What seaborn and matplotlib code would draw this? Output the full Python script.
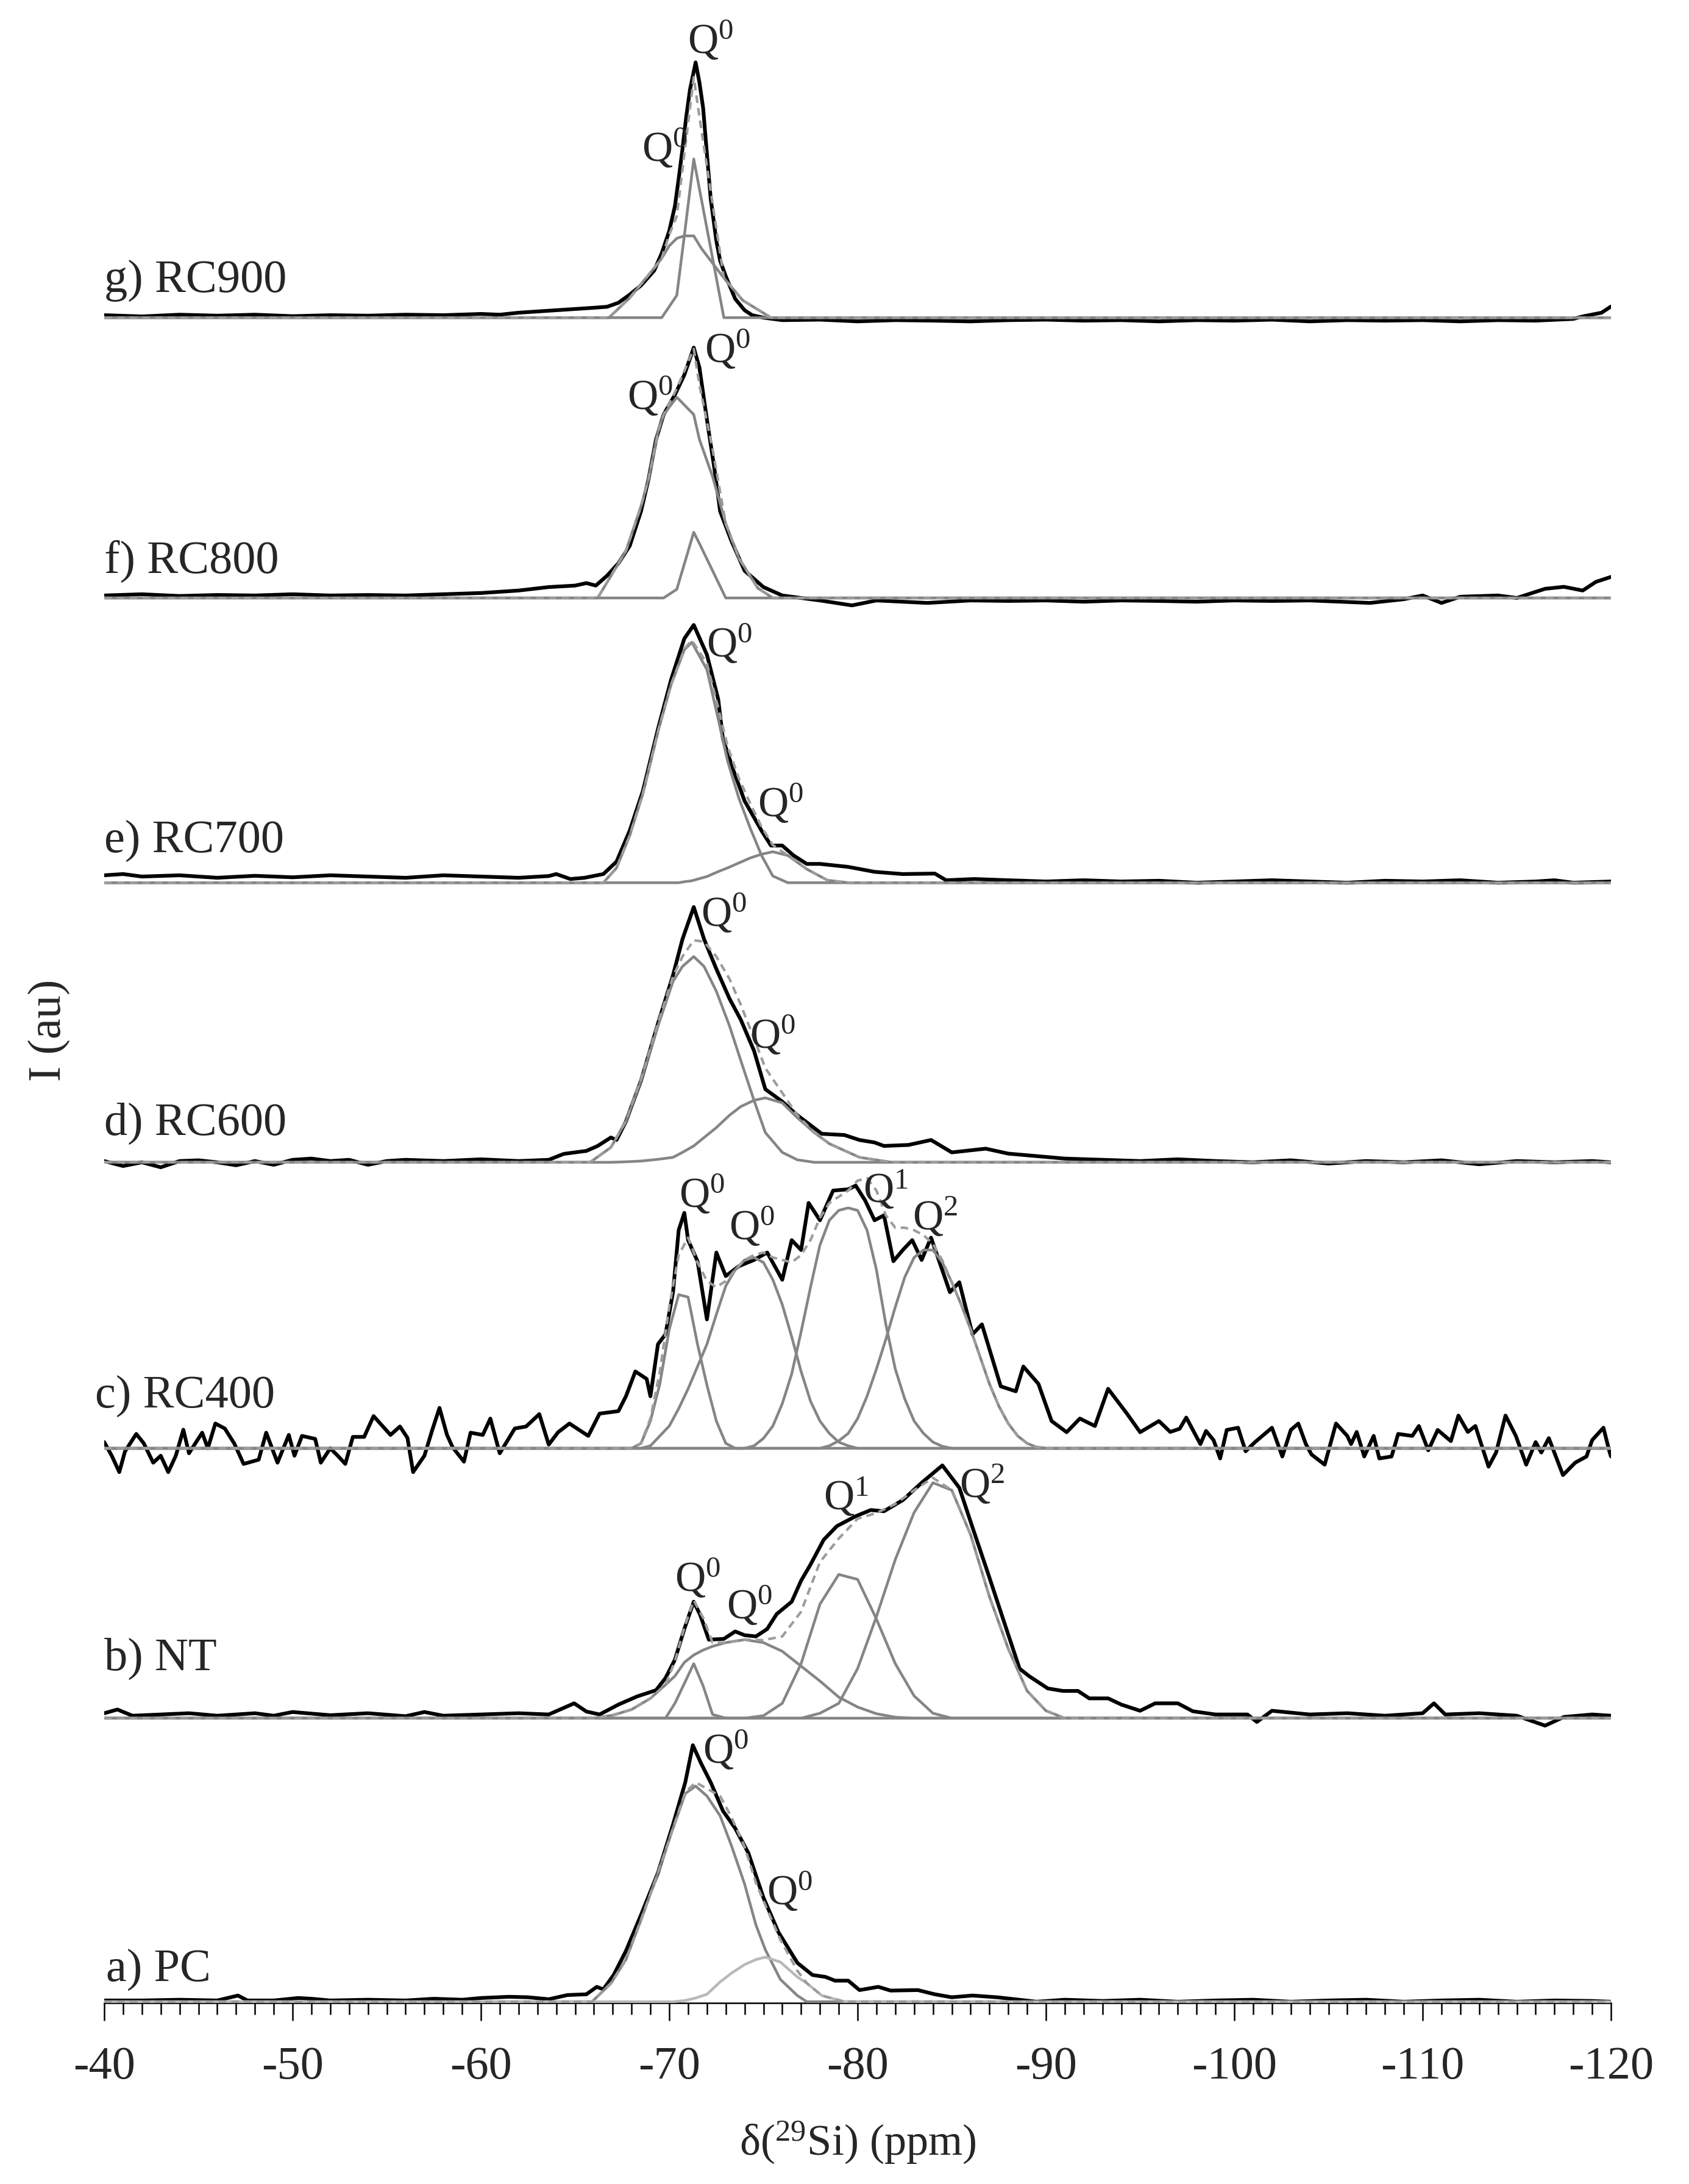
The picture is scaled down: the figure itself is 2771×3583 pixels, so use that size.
#!/usr/bin/env python
# Stacked 29Si MAS NMR spectra with their fitted components

import numpy as np
import pandas as pd
import seaborn as sns
import matplotlib
matplotlib.use("Agg")
import matplotlib.pyplot as plt
from matplotlib.ticker import MultipleLocator


# ---- data (ppm, intensity normalised to the tallest peak of each trace) ----

sample_names = ["a) PC", "b) NT", "c) RC400", "d) RC600", "e) RC700", "f) RC800", "g) RC900"]
offsets = [0.0, 1.144, 2.233, 3.387, 4.515, 5.664, 6.795]

# a) PC
pc_obs = [(-40, 0.005), (-42, 0.005), (-44, 0.008), (-46, 0.005), (-47.1, 0.025), (-47.6, 0.005),
          (-49, 0.005), (-50.3, 0.015), (-51, 0.012), (-52, 0.005), (-54, 0.008), (-56, 0.005),
          (-57.5, 0.012), (-59, 0.008), (-60, 0.015), (-61.5, 0.02), (-62.5, 0.018), (-63.6, 0.01),
          (-64.6, 0.027), (-65.6, 0.03), (-66.15, 0.06), (-66.5, 0.05), (-67.05, 0.108), (-67.7, 0.205),
          (-68.5, 0.35), (-69.4, 0.52), (-70.2, 0.715), (-70.85, 0.885), (-71.25, 1.035), (-71.7, 0.96),
          (-72.2, 0.885), (-72.85, 0.77), (-73.5, 0.70), (-74.2, 0.60), (-75.0, 0.42), (-75.8, 0.28),
          (-76.8, 0.157), (-77.6, 0.108), (-78.3, 0.10), (-78.8, 0.085), (-79.5, 0.085), (-80.1, 0.047),
          (-81.1, 0.06), (-81.75, 0.045), (-83.2, 0.047), (-84.1, 0.03), (-85.0, 0.018), (-86.1, 0.025),
          (-87.4, 0.018), (-88.35, 0.01), (-89.5, 0.0), (-91, 0.008), (-93, 0.003), (-95, 0.008),
          (-97, 0.0), (-99, 0.005), (-101, 0.008), (-103, 0.0), (-105, 0.005), (-107, 0.008),
          (-109, 0.0), (-111, 0.005), (-113, 0.008), (-115, 0.0), (-117, 0.005), (-119, 0.003), (-120, 0.0)]
pc_fit_x = [-65.9, -66.9, -67.7, -68.5, -69.4, -70.2, -70.85, -71.4, -72.0, -72.7, -73.3, -74.0,
            -74.6, -75.1, -75.9, -76.8, -77.3, -78.1, -79.3]
pc_q0_main = [0, 0.074, 0.17, 0.33, 0.52, 0.70, 0.84, 0.87, 0.83, 0.75, 0.63, 0.475,
              0.31, 0.21, 0.09, 0.025, 0, 0, 0]
pc_q0_side = [0, 0, 0, 0, 0, 0, 0.005, 0.015, 0.03, 0.08, 0.115, 0.15,
              0.17, 0.18, 0.16, 0.10, 0.075, 0.025, 0]

# b) NT
nt_obs = [(-40, 0.02), (-40.7, 0.035), (-41.5, 0.01), (-43, 0.015), (-44.5, 0.02), (-46, 0.01),
          (-48, 0.02), (-49, 0.01), (-50, 0.025), (-52, 0.012), (-54, 0.02), (-56, 0.008),
          (-57, 0.025), (-58, 0.01), (-60, 0.015), (-62, 0.02), (-63.6, 0.015), (-64.95, 0.06),
          (-65.6, 0.027), (-66.3, 0.015), (-67.3, 0.055), (-68.3, 0.088), (-69.3, 0.113), (-69.8, 0.162),
          (-70.3, 0.236), (-70.8, 0.36), (-71.3, 0.47), (-71.65, 0.415), (-72.1, 0.317), (-72.9, 0.32),
          (-73.5, 0.35), (-74.0, 0.335), (-74.6, 0.33), (-75.2, 0.36), (-75.7, 0.42), (-76.5, 0.47),
          (-77.0, 0.555), (-77.5, 0.62), (-78.2, 0.72), (-78.9, 0.775), (-79.9, 0.815), (-80.7, 0.84),
          (-81.4, 0.835), (-82.4, 0.88), (-83.4, 0.95), (-84.5, 1.02), (-85.4, 0.93), (-86.1, 0.77),
          (-86.9, 0.59), (-87.9, 0.36), (-88.6, 0.20), (-89.1, 0.17), (-90.1, 0.12), (-90.9, 0.11),
          (-91.7, 0.11), (-92.3, 0.08), (-93.3, 0.08), (-94.0, 0.055), (-95.0, 0.03), (-95.8, 0.06),
          (-97.0, 0.06), (-97.8, 0.028), (-99.0, 0.015), (-100.7, 0.015), (-101.2, -0.015), (-102.0, 0.03),
          (-104, 0.015), (-106, 0.02), (-108, 0.01), (-110, 0.02), (-110.6, 0.06), (-111.2, 0.015),
          (-113, 0.02), (-115, 0.01), (-116.5, -0.03), (-117.5, 0.005), (-119, 0.015), (-120, 0.01)]
nt_fit_x = [-66, -67, -68, -69, -69.8, -70.3, -70.8, -71.3, -71.8, -72.3, -73, -74, -75, -76, -77,
            -78, -79, -80, -81, -82, -83, -84, -85, -86, -87, -88, -89, -90, -91]
nt_q0_narrow = [0, 0, 0, 0, 0, 0.06, 0.14, 0.22, 0.13, 0.015, 0, 0, 0, 0, 0,
                0, 0, 0, 0, 0, 0, 0, 0, 0, 0, 0, 0, 0, 0]
nt_q0_broad = [0, 0.012, 0.035, 0.08, 0.135, 0.17, 0.225, 0.255, 0.275, 0.29, 0.305, 0.317, 0.305, 0.27, 0.21,
               0.15, 0.085, 0.045, 0.018, 0.004, 0, 0, 0, 0, 0, 0, 0, 0, 0]
nt_q1 = [0, 0, 0, 0, 0, 0, 0, 0, 0, 0, 0, 0, 0.01, 0.06, 0.22,
         0.46, 0.58, 0.56, 0.40, 0.22, 0.09, 0.02, 0, 0, 0, 0, 0, 0, 0]
nt_q2 = [0, 0, 0, 0, 0, 0, 0, 0, 0, 0, 0, 0, 0, 0, 0,
         0.02, 0.06, 0.20, 0.41, 0.64, 0.83, 0.95, 0.92, 0.74, 0.49, 0.28, 0.11, 0.03, 0]

# c) RC400
rc400_obs = [(-40.0, 0.025), (-40.4, -0.03), (-40.8, -0.096), (-41.1, -0.013), (-41.7, 0.058), (-42.1, 0.02),
             (-42.6, -0.058), (-43.0, -0.03), (-43.4, -0.096), (-43.8, -0.03), (-44.2, 0.075), (-44.5, -0.02),
             (-45.2, 0.063), (-45.5, 0.0), (-45.9, 0.10), (-46.4, 0.08), (-46.9, 0.02), (-47.4, -0.063),
             (-48.2, -0.046), (-48.6, 0.063), (-49.2, -0.058), (-49.8, 0.054), (-50.1, -0.03), (-50.5, 0.05),
             (-51.2, 0.038), (-51.5, -0.058), (-52.0, 0.0), (-52.4, -0.03), (-52.8, -0.063), (-53.2, 0.046),
             (-53.8, 0.046), (-54.3, 0.13), (-55.2, 0.054), (-55.7, 0.088), (-56.1, 0.042), (-56.4, -0.096),
             (-57.0, -0.03), (-57.4, 0.07), (-57.8, 0.163), (-58.2, 0.054), (-58.5, 0.004), (-59.1, -0.054),
             (-59.45, 0.063), (-60.1, 0.054), (-60.5, 0.12), (-61.0, -0.02), (-61.8, 0.08), (-62.4, 0.088),
             (-63.1, 0.138), (-63.6, 0.015), (-64.1, 0.065), (-64.7, 0.10), (-65.2, 0.075), (-65.7, 0.05),
             (-66.3, 0.14), (-67.3, 0.15), (-67.7, 0.21), (-68.2, 0.31), (-68.8, 0.28), (-69.0, 0.21),
             (-69.4, 0.42), (-69.8, 0.46), (-70.2, 0.63), (-70.5, 0.88), (-70.8, 0.95), (-71.0, 0.84),
             (-71.5, 0.755), (-72.0, 0.52), (-72.5, 0.79), (-73.0, 0.695), (-73.7, 0.735), (-74.5, 0.76),
             (-75.2, 0.79), (-76.0, 0.68), (-76.5, 0.84), (-77.0, 0.80), (-77.4, 0.99), (-78.0, 0.92),
             (-78.7, 1.04), (-79.5, 1.045), (-79.9, 1.06), (-80.4, 1.0), (-80.9, 0.92), (-81.4, 0.94),
             (-81.9, 0.755), (-82.4, 0.80), (-82.9, 0.84), (-83.4, 0.76), (-83.9, 0.85), (-84.9, 0.63),
             (-85.4, 0.67), (-86.1, 0.46), (-86.6, 0.50), (-87.6, 0.25), (-88.4, 0.23), (-88.8, 0.33),
             (-89.6, 0.26), (-90.3, 0.11), (-91.1, 0.065), (-91.8, 0.12), (-92.6, 0.09), (-93.3, 0.24),
             (-94.3, 0.14), (-95.0, 0.065), (-96.0, 0.11), (-96.6, 0.066), (-97.1, 0.079), (-97.45, 0.124),
             (-98.2, 0.017), (-98.5, 0.07), (-98.9, 0.033), (-99.25, -0.041), (-99.6, 0.074), (-100.2, 0.083),
             (-100.6, -0.012), (-101.1, 0.025), (-102.0, 0.083), (-102.55, -0.033), (-103.0, 0.074), (-103.4, 0.10),
             (-103.8, 0.017), (-104.1, -0.025), (-104.8, -0.066), (-105.4, 0.10), (-106.0, 0.05), (-106.2, 0.017),
             (-106.5, 0.066), (-106.9, -0.033), (-107.4, 0.05), (-107.7, -0.041), (-108.35, -0.033), (-108.7, 0.058),
             (-109.45, 0.05), (-109.8, 0.09), (-110.3, -0.008), (-110.8, 0.074), (-111.5, 0.029), (-111.9, 0.132),
             (-112.4, 0.066), (-112.8, 0.09), (-113.5, -0.074), (-113.9, -0.017), (-114.4, 0.132), (-114.95, 0.05),
             (-115.5, -0.066), (-116.0, 0.025), (-116.3, -0.017), (-116.7, 0.041), (-117.45, -0.108), (-118.1, -0.058),
             (-118.7, -0.033), (-119.0, 0.033), (-119.6, 0.083), (-119.9, -0.008), (-120.0, -0.033)]
rc400_fit_x = [-68.0, -68.5, -69.0, -69.5, -70.0, -70.5, -71.0, -71.5, -72.0, -72.5, -73.0, -73.5,
               -74.0, -74.5, -75.0, -75.5, -76.0, -76.5, -77.0, -77.5, -78.0, -78.5, -79.0, -79.5,
               -80.0, -80.5, -81.0, -81.5, -82.0, -82.5, -83.0, -83.5, -84.0, -84.5, -85.0, -85.5,
               -86.0, -86.5, -87.0, -87.5, -88.0, -88.5, -89.0, -89.5, -90.0]
rc400_q0_narrow = [0, 0.02, 0.11, 0.26, 0.48, 0.62, 0.61, 0.42, 0.255, 0.11, 0.02, 0,
                   0, 0, 0, 0, 0, 0, 0, 0, 0, 0, 0, 0,
                   0, 0, 0, 0, 0, 0, 0, 0, 0, 0, 0, 0,
                   0, 0, 0, 0, 0, 0, 0, 0, 0]
rc400_q0_broad = [0, 0, 0.01, 0.05, 0.09, 0.16, 0.24, 0.33, 0.42, 0.54, 0.655, 0.72,
                  0.76, 0.77, 0.75, 0.68, 0.58, 0.45, 0.31, 0.19, 0.11, 0.06, 0.025, 0.01,
                  0, 0, 0, 0, 0, 0, 0, 0, 0, 0, 0, 0,
                  0, 0, 0, 0, 0, 0, 0, 0, 0]
rc400_q1 = [0, 0, 0, 0, 0, 0, 0, 0, 0, 0, 0, 0,
            0, 0.01, 0.04, 0.09, 0.18, 0.30, 0.47, 0.65, 0.82, 0.92, 0.96, 0.97,
            0.96, 0.88, 0.72, 0.50, 0.32, 0.20, 0.11, 0.06, 0.025, 0.008, 0, 0,
            0, 0, 0, 0, 0, 0, 0, 0, 0]
rc400_q2 = [0, 0, 0, 0, 0, 0, 0, 0, 0, 0, 0, 0,
            0, 0, 0, 0, 0, 0, 0, 0, 0, 0.01, 0.03, 0.06,
            0.12, 0.21, 0.32, 0.44, 0.57, 0.69, 0.77, 0.80, 0.80, 0.75, 0.67, 0.58,
            0.48, 0.37, 0.26, 0.17, 0.10, 0.05, 0.02, 0.005, 0]

# d) RC600
rc600_obs = [(-40, 0.005), (-41, -0.015), (-42, 0.0), (-43, -0.02), (-44, 0.005), (-45, 0.008),
             (-46, 0.0), (-47, -0.012), (-48, 0.005), (-49, -0.01), (-50, 0.01), (-51, 0.015),
             (-52, 0.005), (-53, 0.01), (-54, -0.01), (-55, 0.005), (-56, 0.01), (-58, 0.005),
             (-60, 0.012), (-62, 0.005), (-63.6, 0.01), (-64.4, 0.034), (-65.6, 0.046), (-66.2, 0.066),
             (-66.9, 0.10), (-67.2, 0.09), (-67.7, 0.165), (-68.5, 0.33), (-69.4, 0.56), (-70.2, 0.755),
             (-70.7, 0.90), (-71.3, 1.03), (-71.85, 0.90), (-72.5, 0.78), (-73.2, 0.66), (-73.8, 0.575),
             (-74.5, 0.45), (-75.1, 0.295), (-76.0, 0.245), (-76.8, 0.19), (-78.1, 0.115), (-79.3, 0.11),
             (-80.1, 0.09), (-80.9, 0.08), (-81.4, 0.066), (-82.7, 0.07), (-83.9, 0.09), (-85.0, 0.04),
             (-86.8, 0.055), (-88, 0.035), (-89.5, 0.025), (-91, 0.015), (-93, 0.01), (-95, 0.005),
             (-97, 0.012), (-99, 0.005), (-101, 0.0), (-103, 0.008), (-105, -0.005), (-107, 0.005),
             (-109, 0.0), (-111, 0.008), (-113, -0.008), (-115, 0.005), (-117, 0.0), (-119, 0.005), (-120, 0.0)]
rc600_fit_x = [-65.8, -66.9, -67.7, -68.5, -69.4, -70.2, -70.7, -71.3, -71.85, -72.5, -73.2, -73.8,
               -74.5, -75.1, -76.0, -76.8, -77.7, -78.5, -80.1, -81.8]
rc600_q0_main = [0, 0.06, 0.165, 0.33, 0.55, 0.73, 0.79, 0.83, 0.79, 0.69, 0.55, 0.41,
                 0.25, 0.12, 0.04, 0.01, 0, 0, 0, 0]
rc600_q0_side = [0, 0, 0.002, 0.005, 0.012, 0.02, 0.04, 0.066, 0.10, 0.14, 0.19, 0.225,
                 0.25, 0.26, 0.24, 0.18, 0.12, 0.075, 0.02, 0]

# e) RC700
rc700_obs = [(-40, 0.03), (-41, 0.035), (-42, 0.025), (-44, 0.03), (-46, 0.02), (-48, 0.028),
             (-50, 0.022), (-52, 0.03), (-54, 0.025), (-56, 0.02), (-58, 0.03), (-60, 0.025),
             (-62, 0.02), (-63.6, 0.027), (-64.0, 0.035), (-64.75, 0.015), (-65.5, 0.02), (-66.5, 0.035),
             (-67.2, 0.085), (-67.9, 0.21), (-68.6, 0.37), (-69.4, 0.62), (-70.1, 0.82), (-70.8, 0.985),
             (-71.3, 1.04), (-72.0, 0.92), (-72.6, 0.74), (-72.85, 0.58), (-73.4, 0.455), (-74.0, 0.33),
             (-74.9, 0.21), (-75.4, 0.15), (-76.0, 0.15), (-76.6, 0.11), (-77.3, 0.076), (-78.0, 0.076),
             (-79.5, 0.064), (-80.9, 0.044), (-82.4, 0.035), (-84.1, 0.037), (-84.7, 0.01), (-86.2, 0.015),
             (-88, 0.01), (-90, 0.005), (-92, 0.01), (-94, 0.005), (-96, 0.008), (-98, 0.0),
             (-100, 0.005), (-102, 0.01), (-104, 0.005), (-106, 0.0), (-108, 0.008), (-110, 0.005),
             (-112, 0.01), (-114, 0.0), (-116, 0.005), (-117, 0.01), (-118, 0.0), (-120, 0.005)]
rc700_fit_x = [-66.5, -67.2, -67.9, -68.6, -69.4, -70.1, -70.5, -70.8, -71.2, -72.0, -72.3, -72.6,
               -73.1, -73.7, -74.3, -74.9, -75.5, -76.3, -77.3, -78.4, -79.5]
rc700_q0_main = [0, 0.06, 0.19, 0.36, 0.61, 0.80, 0.88, 0.94, 0.97, 0.86, 0.76, 0.66,
                 0.49, 0.34, 0.22, 0.11, 0.027, 0, 0, 0, 0]
rc700_q0_side = [0, 0, 0, 0, 0, 0, 0, 0.004, 0.008, 0.025, 0.035, 0.045,
                 0.06, 0.08, 0.10, 0.115, 0.125, 0.11, 0.055, 0.01, 0]

# f) RC800
rc800_obs = [(-40, 0.01), (-42, 0.015), (-44, 0.008), (-46, 0.012), (-48, 0.01), (-50, 0.015),
             (-52, 0.01), (-54, 0.012), (-56, 0.01), (-58, 0.015), (-60, 0.02), (-62, 0.03),
             (-63.6, 0.044), (-65, 0.05), (-65.6, 0.06), (-66.1, 0.05), (-66.7, 0.09), (-67.3, 0.14),
             (-67.9, 0.21), (-68.5, 0.35), (-68.9, 0.48), (-69.3, 0.64), (-69.7, 0.74), (-70.3, 0.82),
             (-70.8, 0.90), (-71.3, 1.01), (-71.6, 0.93), (-72.0, 0.72), (-72.4, 0.52), (-72.7, 0.35),
             (-73.3, 0.23), (-74.0, 0.11), (-75.0, 0.044), (-76.0, 0.01), (-77, 0.0), (-78, -0.01),
             (-79.7, -0.03), (-81, -0.01), (-83.7, -0.02), (-86, -0.01), (-88, -0.012), (-90, -0.01),
             (-92, -0.015), (-94, -0.01), (-96, -0.012), (-98, -0.015), (-100, -0.01), (-102, -0.012),
             (-104, -0.01), (-107.2, -0.02), (-109, -0.005), (-110, 0.01), (-111, -0.02), (-112, 0.005),
             (-114, 0.01), (-115, 0.0), (-116.5, 0.037), (-117.5, 0.045), (-118.5, 0.03), (-119.2, 0.065),
             (-120, 0.085)]
rc800_fit_x = [-66.2, -67.7, -68.5, -68.9, -69.4, -69.7, -70.4, -71.3, -71.6, -72.3, -73.0, -73.7,
               -74.7, -75.5]
rc800_q0_broad = [0, 0.19, 0.37, 0.48, 0.67, 0.74, 0.81, 0.74, 0.64, 0.49, 0.30, 0.16, 0.04, 0]
rc800_q0_narrow = [0, 0, 0, 0, 0, 0, 0.035, 0.265, 0.22, 0.11, 0, 0, 0, 0]

# g) RC900
rc900_obs = [(-40, 0.01), (-42, 0.005), (-44, 0.012), (-46, 0.008), (-48, 0.012), (-50, 0.006),
             (-52, 0.01), (-54, 0.008), (-56, 0.012), (-58, 0.01), (-60, 0.015), (-61, 0.012),
             (-62, 0.02), (-63, 0.025), (-64, 0.03), (-65, 0.035), (-66, 0.04), (-66.7, 0.044),
             (-67.3, 0.06), (-67.9, 0.093), (-68.5, 0.13), (-69.2, 0.19), (-69.6, 0.26), (-70.0, 0.35),
             (-70.3, 0.45), (-70.5, 0.56), (-70.7, 0.68), (-70.9, 0.81), (-71.1, 0.92), (-71.4, 1.03),
             (-71.6, 0.95), (-71.8, 0.845), (-72.0, 0.66), (-72.2, 0.48), (-72.5, 0.31), (-72.7, 0.23),
             (-73.0, 0.167), (-73.5, 0.076), (-74.0, 0.03), (-74.4, 0.01), (-75, 0.0), (-76, -0.01),
             (-78, -0.008), (-80, -0.015), (-82, -0.01), (-84, -0.012), (-86, -0.015), (-88, -0.01),
             (-90, -0.008), (-92, -0.012), (-94, -0.01), (-96, -0.015), (-98, -0.01), (-100, -0.012),
             (-102, -0.008), (-104, -0.015), (-106, -0.01), (-108, -0.012), (-110, -0.01), (-112, -0.015),
             (-114, -0.01), (-116, -0.012), (-118, -0.005), (-118.5, 0.005), (-119.5, 0.02), (-120, 0.045)]
rc900_fit_x = [-66.8, -67.9, -69.2, -69.6, -70.0, -70.4, -70.8, -71.3, -71.7, -72.2, -72.9, -73.9, -75.4]
rc900_q0_narrow = [0, 0, 0, 0, 0.045, 0.09, 0.33, 0.64, 0.48, 0.28, 0, 0, 0]
rc900_q0_broad = [0, 0.08, 0.20, 0.24, 0.29, 0.32, 0.33, 0.33, 0.28, 0.23, 0.16, 0.07, 0]

# peak annotations: (text, ppm, height above the trace baseline)
pc_marks = [("Q$^{0}$", -73.0, 1.01), ("Q$^{0}$", -76.4, 0.44)]
nt_marks = [("Q$^{0}$", -71.5, 0.56), ("Q$^{0}$", -74.25, 0.45), ("Q$^{1}$", -79.4, 0.89), ("Q$^{2}$", -86.6, 0.94)]
rc400_marks = [("Q$^{0}$", -71.75, 1.02), ("Q$^{0}$", -74.4, 0.89), ("Q$^{1}$", -81.5, 1.04), ("Q$^{2}$", -84.1, 0.93)]
rc600_marks = [("Q$^{0}$", -72.9, 1.0), ("Q$^{0}$", -75.5, 0.51)]
rc700_marks = [("Q$^{0}$", -73.2, 0.96), ("Q$^{0}$", -75.9, 0.315)]
rc800_marks = [("Q$^{0}$", -73.1, 1.0), ("Q$^{0}$", -69.0, 0.81)]
rc900_marks = [("Q$^{0}$", -72.2, 1.114), ("Q$^{0}$", -69.75, 0.68)]

# sample label (ppm at left edge, height above baseline)
label_pos = [(-40.1, 0.13), (-40.0, 0.24), (-39.5, 0.21), (-40.0, 0.157), (-40.0, 0.17), (-40.0, 0.146), (-40.0, 0.15)]


# ---- styling ----
sns.set_style("ticks")
plt.rcParams["font.family"] = ["Liberation Serif", "DejaVu Serif"]
plt.rcParams["mathtext.fontset"] = "custom"
plt.rcParams["mathtext.rm"] = "Liberation Serif"
plt.rcParams["mathtext.it"] = "Liberation Serif:italic"
plt.rcParams["mathtext.bf"] = "Liberation Serif:bold"
plt.rcParams["mathtext.default"] = "rm"
plt.rcParams["axes.unicode_minus"] = False

BLACK = "#000000"
FIT = "#858585"
FIT_LIGHT = "#b8b8b8"
SUM = "#9c9c9c"

samples = [
    (pc_obs, pc_fit_x, [pc_q0_main, pc_q0_side], [FIT, FIT_LIGHT], pc_marks),
    (nt_obs, nt_fit_x, [nt_q0_narrow, nt_q0_broad, nt_q1, nt_q2], [FIT] * 4, nt_marks),
    (rc400_obs, rc400_fit_x, [rc400_q0_narrow, rc400_q0_broad, rc400_q1, rc400_q2], [FIT] * 4, rc400_marks),
    (rc600_obs, rc600_fit_x, [rc600_q0_main, rc600_q0_side], [FIT] * 2, rc600_marks),
    (rc700_obs, rc700_fit_x, [rc700_q0_main, rc700_q0_side], [FIT] * 2, rc700_marks),
    (rc800_obs, rc800_fit_x, [rc800_q0_broad, rc800_q0_narrow], [FIT] * 2, rc800_marks),
    (rc900_obs, rc900_fit_x, [rc900_q0_narrow, rc900_q0_broad], [FIT] * 2, rc900_marks),
]

W, H = 2771, 3583
fig = plt.figure(figsize=(W / 100, H / 100), dpi=100)
ax = fig.add_axes([171 / W, 297 / H, (2643 - 171) / W, 1 - 297 / H])

for idx, (obs, fit_x, comps, colors, marks) in enumerate(samples):
    off = offsets[idx]
    obs_df = pd.DataFrame(obs, columns=["ppm", "I"])
    sns.lineplot(x=obs_df["ppm"], y=obs_df["I"] + off, ax=ax, color=BLACK,
                 lw=4.4, sort=False, estimator=None, zorder=2)

    # fitted components, drawn across the full window
    grid = [-40.0] + list(fit_x) + [-120.0]
    for comp, col in zip(comps, colors):
        y = np.array([0.0] + list(comp) + [0.0]) + off
        sns.lineplot(x=grid, y=y, ax=ax, color=col, lw=3.2,
                     sort=False, estimator=None, zorder=3)
    total = np.array([0.0] + list(np.sum(comps, axis=0)) + [0.0]) + off
    sns.lineplot(x=grid, y=total, ax=ax, color=SUM, lw=3.0, linestyle=(0, (3, 2)),
                 sort=False, estimator=None, zorder=4)

    for txt, px, h in marks:
        ax.text(px, off + h, txt, ha="center", va="center", fontsize=50, zorder=5)

    lx, lh = label_pos[idx]
    ax.text(lx, off + lh, sample_names[idx], ha="left", va="center",
            fontsize=55, clip_on=False, zorder=5)

ax.set_xlim(-40, -120)
ax.set_ylim(-0.005, 3284 / 406.6)
ax.set_xticks(np.arange(-40, -121, -10))
ax.xaxis.set_minor_locator(MultipleLocator(1))
ax.set_yticks([])
ax.tick_params(axis="x", which="major", length=21, width=1.8, direction="out",
               labelsize=55, pad=30, color=BLACK)
ax.tick_params(axis="x", which="minor", length=14, width=1.8, direction="out", color=BLACK)
for side in ["left", "right", "top"]:
    ax.spines[side].set_visible(False)
ax.spines["bottom"].set_linewidth(1.8)
ax.spines["bottom"].set_color(BLACK)
ax.set_xlabel("")
ax.set_ylabel("")

fig.text(1407 / W, 1 - 3515 / H, "δ($^{29}$Si) (ppm)", ha="center", va="center", fontsize=52)
fig.text(80 / W, 1 - 1690 / H, "I (au)", ha="center", va="center", rotation=90, fontsize=55)

fig.savefig("out.png", dpi=100)
